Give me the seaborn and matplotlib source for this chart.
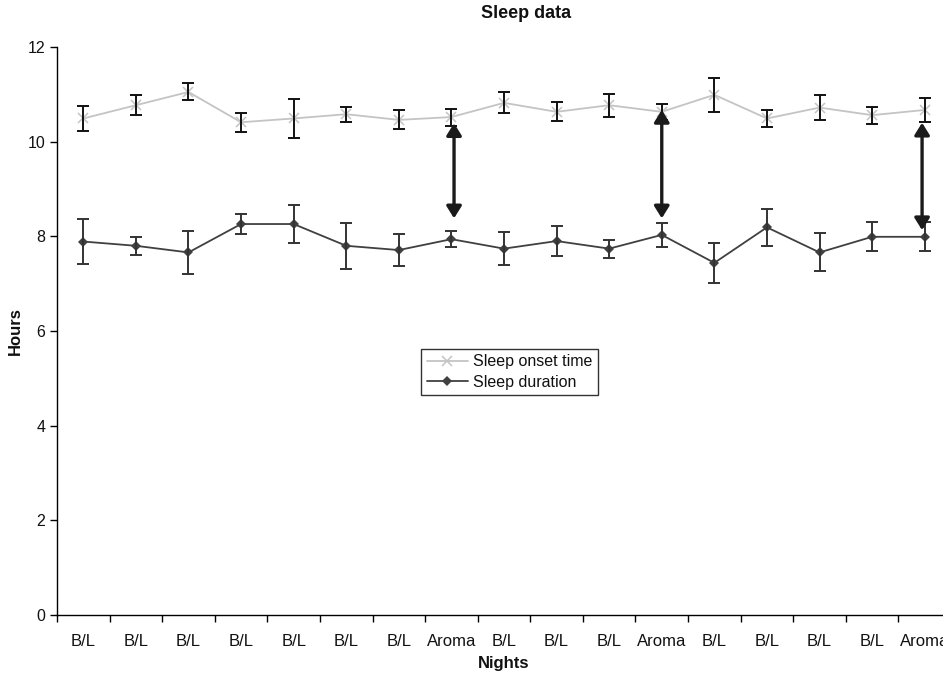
import numpy as np
import pandas as pd
import seaborn as sns
import matplotlib.pyplot as plt

nights = ["B/L", "B/L", "B/L", "B/L", "B/L", "B/L", "B/L", "Aroma", "B/L",
          "B/L", "B/L", "Aroma", "B/L", "B/L", "B/L", "B/L", "Aroma"]

onset = [10.49, 10.77, 11.05, 10.41, 10.49, 10.58, 10.46, 10.52, 10.82,
         10.63, 10.77, 10.63, 10.99, 10.49, 10.72, 10.56, 10.67]
onset_err = [0.26, 0.21, 0.18, 0.20, 0.41, 0.16, 0.20, 0.18, 0.22,
             0.20, 0.24, 0.17, 0.36, 0.17, 0.27, 0.18, 0.26]

duration = [7.89, 7.80, 7.66, 8.26, 8.26, 7.80, 7.71, 7.94, 7.74,
            7.90, 7.74, 8.03, 7.44, 8.19, 7.66, 7.99, 7.99]
duration_err = [0.48, 0.19, 0.45, 0.22, 0.40, 0.49, 0.34, 0.17, 0.35,
                0.32, 0.19, 0.26, 0.42, 0.39, 0.40, 0.31, 0.31]

# double arrows at the aroma nights: (night index, top, bottom)
arrows = [(7.05, 10.39, 8.38), (11, 10.67, 8.38), (15.95, 10.40, 8.13)]

sns.set_theme(style="white")
plt.rcParams["font.family"] = ["Liberation Sans", "DejaVu Sans"]

df = pd.DataFrame({
    "night": np.arange(len(nights)),
    "Sleep onset time": onset,
    "Sleep duration": duration,
})

fig = plt.figure(figsize=(9.43, 6.74), dpi=100)
ax = fig.add_axes([57 / 943, 59 / 674, 894 / 943, 568 / 674])

sns.lineplot(data=df, x="night", y="Sleep onset time", ax=ax, color="#c4c4c4",
             marker="x", markersize=7, markeredgewidth=1.1,
             markeredgecolor="#c4c4c4", linewidth=1.3,
             label="Sleep onset time")
sns.lineplot(data=df, x="night", y="Sleep duration", ax=ax, color="#404040",
             marker="D", markersize=5.5, markeredgewidth=0, linewidth=1.3,
             label="Sleep duration")

ax.errorbar(df["night"], onset, yerr=onset_err, fmt="none", ecolor="#111111",
            elinewidth=1.4, capsize=4.5, capthick=1.4, zorder=3)
ax.errorbar(df["night"], duration, yerr=duration_err, fmt="none", ecolor="#333333",
            elinewidth=1.4, capsize=4.5, capthick=1.4, zorder=3)

for x, top, bottom in arrows:
    ax.annotate("", xy=(x, bottom), xytext=(x, top),
                arrowprops=dict(arrowstyle="<|-|>,head_length=0.45,head_width=0.28",
                                color="#1a1a1a", lw=2.4,
                                mutation_scale=16, shrinkA=0, shrinkB=0))

ax.set_xlim(-0.5, len(nights) - 0.5)
ax.set_ylim(0, 12)
ax.set_yticks(range(0, 13, 2))
ax.set_xticks(np.arange(-0.5, len(nights) + 0.5, 1))
ax.set_xticklabels([])
ax.set_xticks(np.arange(len(nights)), minor=True)
ax.set_xticklabels(nights, minor=True)
ax.tick_params(axis="x", which="major", direction="out", length=5, width=1,
               color="black", bottom=True)
ax.tick_params(axis="x", which="minor", length=0, pad=14, labelsize=12,
               labelcolor="#111111")
ax.tick_params(axis="y", direction="out", length=5, width=1, color="black",
               left=True, labelsize=11.5, labelcolor="#111111")

for side in ["top", "right"]:
    ax.spines[side].set_visible(False)
for side in ["left", "bottom"]:
    ax.spines[side].set_color("black")
    ax.spines[side].set_linewidth(1)

ax.set_title("Sleep data", fontsize=13, fontweight="bold", x=0.525, pad=21,
             color="#111111")
ax.set_xlabel("Nights", fontsize=12, fontweight="bold", labelpad=5,
              color="#111111")
ax.set_ylabel("Hours", fontsize=12, fontweight="bold", labelpad=3,
              color="#111111")

leg = ax.legend(loc="center", bbox_to_anchor=(0.506, 0.428), fontsize=11.5,
                frameon=True, fancybox=False, edgecolor="black",
                handlelength=2.6, handletextpad=0.3, borderpad=0.35,
                labelspacing=0.35)
leg.get_frame().set_linewidth(1)
for t in leg.get_texts():
    t.set_color("#111111")

fig.savefig("out.png", dpi=100)
